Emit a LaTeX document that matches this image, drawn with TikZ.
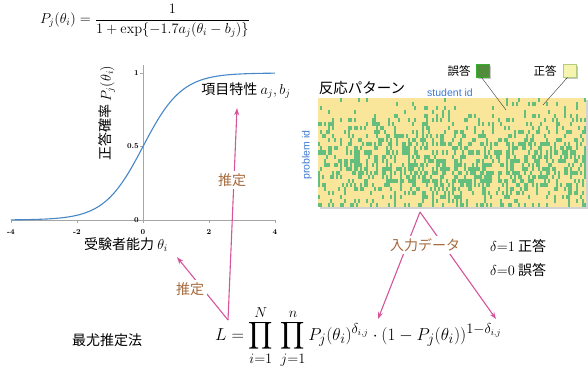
\documentclass[tikz,border=0pt]{standalone}
\usepackage{amsmath,amssymb}
\usepackage{fontspec}
\newfontfamily\jp{Noto Sans CJK JP}
\newfontfamily\idfont{Liberation Sans}
\usepackage{tikz}
\usetikzlibrary{arrows.meta,calc,shadows}
\definecolor{curveblue}{RGB}{70,135,200}
\definecolor{estpink}{RGB}{214,84,154}
\definecolor{estbrown}{RGB}{165,105,60}
\definecolor{idblue}{RGB}{60,120,210}
\definecolor{okyellow}{RGB}{250,230,155}
\definecolor{nggreen}{RGB}{100,190,125}
\definecolor{keydark}{RGB}{80,140,60}
\definecolor{keylight}{RGB}{245,245,175}

\begin{document}
\begin{tikzpicture}[x=1pt, y=-1pt,
  every node/.style={font=\jp\fontsize{14}{16}\selectfont, inner sep=1pt},
  axis/.style={gray!70, line width=0.6pt},
  ticklab/.style={font=\rmfamily\bfseries\fontsize{7.5}{8}\selectfont},
  estarrow/.style={-{Stealth[length=7pt,width=5pt]}, estpink, line width=1.1pt},
  estlab/.style={fill=white, text=estbrown, inner sep=2.5pt},
  keybox/.style={draw, line width=0.8pt, minimum size=13pt, inner sep=0pt,
    drop shadow={shadow xshift=1.5pt, shadow yshift=-1.5pt, opacity=0.45}}]
\useasboundingbox (0,0) rectangle (588,369);

% ---- top: item response function
\node (irf) at (145,21) {\fontsize{14.5}{17}\selectfont
  $P_j(\theta_i) = \dfrac{1}{1+\exp\{-1.7a_j(\theta_i-b_j)\}}$};

% ---- left: the curve
\draw[axis] (11,220) -- (275,220);
\draw[axis] (143,220) -- (143,65);
\foreach \t [count=\k] in {-4,-2,0,2,4} {
  \draw[axis] ({143+33*\t},220) -- ++(0,3);
  \node[ticklab] (xt\k) at ({143+33*\t},232) {\t};
}
\foreach \p/\lab [count=\k] in {0/0, 0.5/0.5, 1/1} {
  \draw[axis] (143,{220-147*\p}) -- ++(-3,0);
  \node[ticklab, anchor=east] (yt\k) at (140,{220-147*\p}) {\lab};
}
\draw[curveblue, line width=1.1pt, domain=-4:4, samples=120, smooth]
  plot ({143+33*\x}, {220-147/(1+exp(-1.7*\x))});
\node[rotate=90] (ylab) at (107,113) {正答確率 $P_j(\theta_i)$};
\node (xlab) at (126,245) {受験者能力 $\theta_i$};
\node (item) at (246,91) {項目特性 $a_j, b_j$};

% ---- right: response pattern
\node (pattern) at (362,88) {\fontsize{14.5}{16}\selectfont 反応パターン};
\node[font=\idfont\fontsize{10.5}{12}\selectfont, text=idblue] (sid) at (450,93) {student id};
\node[font=\idfont\fontsize{10.5}{12}\selectfont, text=idblue, rotate=90] (pid) at (307,155) {problem id};
\node[fill=okyellow, minimum width=268pt, minimum height=109pt, inner sep=0pt,
  drop shadow={shadow xshift=1.5pt, shadow yshift=-1.5pt, opacity=0.35}] (heat) at (452,152.5) {};
\pgfmathsetseed{4217}
\foreach \c in {0,...,133} {
  \pgfmathsetmacro\abil{0.3*rnd-0.15}
  \foreach \d [count=\r from 0] in {0.07,0.09,0.12,0.09,0.14,0.18,0.20,0.22,0.27,0.29,
      0.32,0.35,0.37,0.39,0.37,0.42,0.40,0.43,0.45,0.42,0.41,0.37,0.33,0.25,0.23,0.21,0.27} {
    \pgfmathtruncatemacro\hit{rnd<(\d+\abil)}
    \ifnum\hit=1
      \fill[nggreen] ({318+2*\c},{98+109/27*\r}) rectangle ++(1.8,{109/27});
    \fi
  }
}
\node (ngtxt) at (459,71) {\fontsize{11.5}{13}\selectfont 誤答};
\node[keybox, draw=keydark!70!green, fill=keydark] (ngkey) at (482.5,70.5) {};
\node (oktxt) at (545,71) {\fontsize{11.5}{13}\selectfont 正答};
\node[keybox, draw=keydark!40!keylight, fill=keylight] (okkey) at (569.5,70.5) {};
\coordinate (ngcell) at (506,110);
\coordinate (okcell) at (543,105);
\draw[black!80, line width=0.4pt] ($(ngkey.south)+(-1,0)$) -- (ngcell);
\draw[black!80, line width=0.4pt] ($(okkey.south)+(-2,0)$) -- (okcell);

% ---- bottom: likelihood
\node (mle) at (107,340) {最尤推定法};
\node[anchor=west] (lik) at (214,337) {\fontsize{19}{22}\selectfont
  $\displaystyle L = \prod_{i=1}^{N}\;\prod_{j=1}^{n} P_j(\theta_i)^{\delta_{i,j}}\cdot(1-P_j(\theta_i))^{1-\delta_{i,j}}$};
\node[anchor=west] (d1) at (489,246) {$\delta{=}1$ 正答};
\node[anchor=west] (d0) at (489,270) {$\delta{=}0$ 誤答};

% ---- arrows
\coordinate (Ltop) at (228,320);
\coordinate (apex) at (420,212);
\coordinate (tipA) at (378,319);
\coordinate (tipB) at (496,319);
\draw[estarrow] (Ltop) -- ($(item.south)+(-9,8)$);
\draw[estarrow] (Ltop) -- ($(xlab.south east)+(8,4)$);
\draw[estarrow] (apex) -- (tipA);
\draw[estarrow] (apex) -- (tipB);
\node[estlab] (est1) at (232,180) {推定};
\node[estlab] (est2) at (190,289) {推定};
\node[estlab] (input) at (425,245) {入力データ};
\end{tikzpicture}
\end{document}
